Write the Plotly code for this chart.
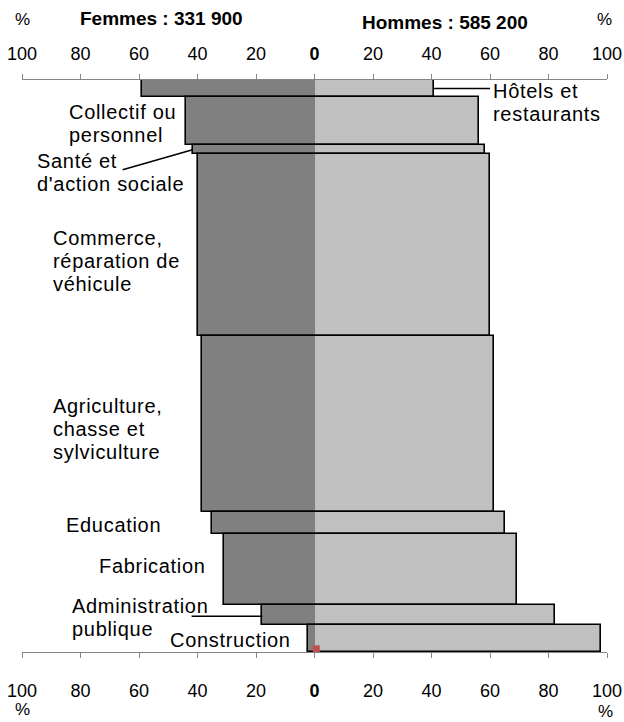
import plotly.graph_objects as go

# ---- data ----
categories = ["Hôtels et<br>restaurants", "Collectif ou<br>personnel", "Santé et<br>d'action sociale",
              "Commerce,<br>réparation de<br>véhicule", "Agriculture,<br>chasse et<br>sylviculture",
              "Education", "Fabrication", "Administration<br>publique", "Construction"]
femmes_pct = [59.1, 43.8, 41.7, 40.0, 38.6, 34.9, 30.8, 17.8, 2.1]
hommes_pct = [40.9, 56.2, 58.3, 60.0, 61.4, 65.1, 69.2, 82.2, 97.9]
part_emploi = [3.0, 8.4, 1.6, 31.8, 30.8, 3.7, 12.4, 3.5, 4.8]   # bar heights (% of employment)
tick_vals = [-100, -80, -60, -40, -20, 0, 20, 40, 60, 80, 100]
tick_text = ["100", "80", "60", "40", "20", "<b>0</b>", "20", "40", "60", "80", "100"]
marker_x = [0.6]
marker_y = [99.45]

# label placement (x in %, y in cumulative share)
label_x = [60.5, -84.5, -95.5, -90, -90, -85.5, -74.5, -83.5, -50]
label_y = [3.85, 7.6, 16.1, 31.6, 61.0, 77.8, 85.0, 93.9, 97.9]

# ---- derived positions ----
centers = []
acc = 0.0
for h in part_emploi:
    centers.append(acc + h / 2)
    acc += h

FONT = "Liberation Sans, Arial, sans-serif"
LINE_H = 23  # px between label lines
LS = "letter-spacing:0.7px"

fig = go.Figure()
fig.add_trace(go.Bar(orientation="h", y=centers, x=[-f for f in femmes_pct], width=part_emploi,
                     base=0, marker=dict(color="#808080", line=dict(width=0)), hoverinfo="skip"))
fig.add_trace(go.Bar(orientation="h", y=centers, x=hommes_pct, width=part_emploi,
                     base=0, marker=dict(color="#C0C0C0", line=dict(width=0)), hoverinfo="skip"))
fig.add_trace(go.Bar(orientation="h", y=centers, x=[f + h for f, h in zip(femmes_pct, hommes_pct)],
                     width=part_emploi, base=[-f for f in femmes_pct],
                     marker=dict(color="rgba(0,0,0,0)", line=dict(color="black", width=1.6)),
                     hoverinfo="skip"))
fig.add_trace(go.Scatter(x=marker_x, y=marker_y, mode="markers",
                         marker=dict(symbol="square", size=7, color="#C0504D"), hoverinfo="skip"))
# dummy trace for top axis
fig.add_trace(go.Scatter(x=[0], y=[0], xaxis="x2", mode="markers",
                         marker=dict(opacity=0), hoverinfo="skip"))

for cat, lx, ly in zip(categories, label_x, label_y):
    lines = cat.split("<br>")
    n = len(lines)
    for i, line in enumerate(lines):
        fig.add_annotation(x=lx, y=ly, xref="x", yref="y",
                           text=f'<span style="{LS}">{line}</span>', showarrow=False,
                           xanchor="left", yanchor="middle", align="left",
                           yshift=-(i - (n - 1) / 2) * LINE_H,
                           font=dict(family=FONT, size=20, color="black"))

# leader lines
fig.add_shape(type="line", x0=hommes_pct[0], x1=label_x[0] - 0.5, y0=centers[0], y1=centers[0],
              line=dict(color="black", width=1.5))
fig.add_shape(type="line", x0=-femmes_pct[2], x1=-65.6, y0=centers[2], y1=15.7,
              line=dict(color="black", width=1.5))
fig.add_shape(type="line", x0=-femmes_pct[7], x1=-42, y0=centers[7] + 0.3, y1=centers[7] + 0.3,
              line=dict(color="black", width=1.5))

def pann(text, x, y, bold=False, size=17):
    fig.add_annotation(x=x, y=y, xref="paper", yref="paper", text=f"<b>{text}</b>" if bold else text,
                       showarrow=False, xanchor="center", yanchor="middle",
                       font=dict(family=FONT, size=size, color="black"))

pann("%", 0.0, 1.105)
pann("Femmes : 331 900", 0.238, 1.108, bold=True, size=19)
pann("Hommes : 585 200", 0.723, 1.101, bold=True, size=19)
pann("%", 0.995, 1.105)
pann("%", 0.0, -0.100)
pann("%", 0.997, -0.104)

axis_common = dict(range=[-100, 100], tickvals=tick_vals, ticktext=tick_text, ticks="outside",
                   ticklen=5, tickcolor="#868686", showline=True, linecolor="#868686", linewidth=1,
                   showgrid=False, zeroline=False, automargin=False, ticklabeloverflow="allow",
                   tickfont=dict(family=FONT, size=18, color="black"))
fig.update_layout(
    width=624, height=722,
    margin=dict(l=22, r=17, t=80, b=70, autoexpand=False),
    plot_bgcolor="white", paper_bgcolor="white",
    barmode="overlay", bargap=0, showlegend=False,
    xaxis=dict(**axis_common, side="bottom", ticklabelstandoff=17),
    xaxis2=dict(**axis_common, side="top", overlaying="x", ticklabelstandoff=7),
    yaxis=dict(range=[100, 0], showticklabels=False, showgrid=False, zeroline=False, showline=False,
               ticks="", automargin=False),
)
# remove the default page margin/scrollbars so the 624x722 figure fills the window exactly
page_fix = ("document.body.style.margin='0';"
            "document.documentElement.style.overflow='hidden';"
            "document.body.style.overflow='hidden';")
fig.write_html("out.html", post_script=page_fix, config={"displayModeBar": False})
